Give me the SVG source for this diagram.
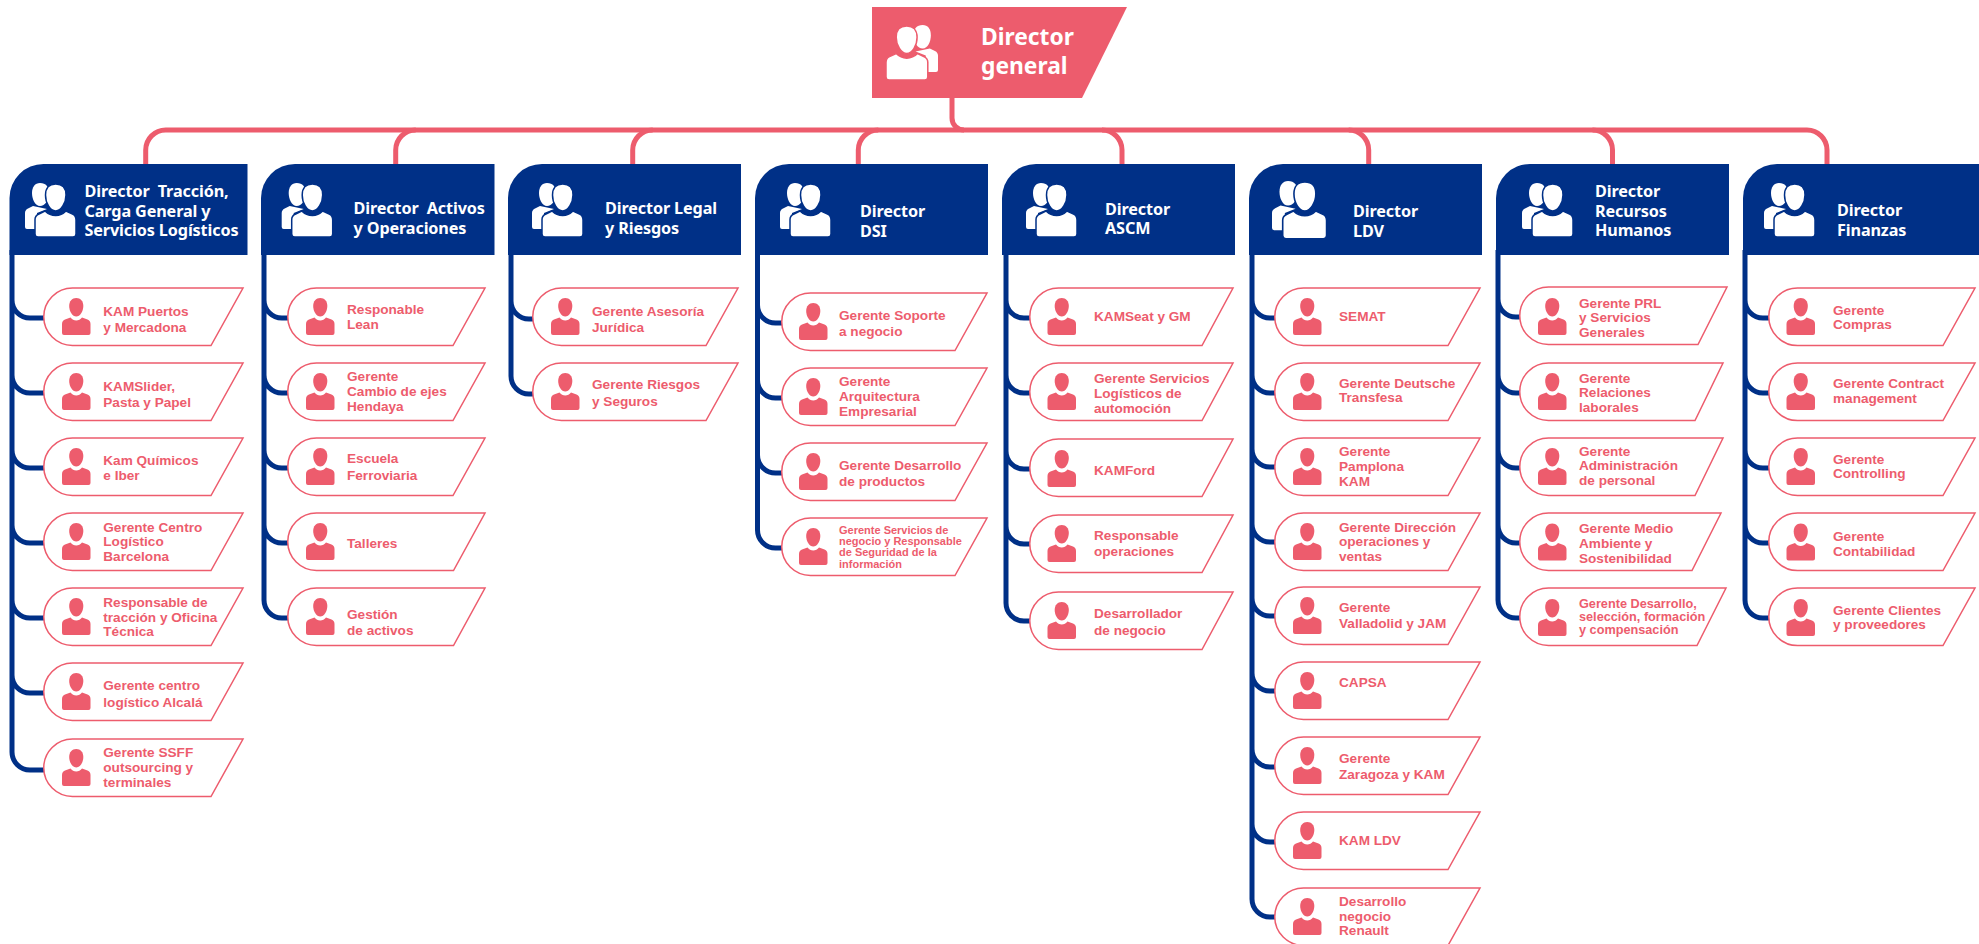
<svg xmlns="http://www.w3.org/2000/svg" width="1979" height="944" viewBox="0 0 1979 944">
<style>
.nd{fill:#fff;stroke:#ed5c6d;stroke-width:1.5}
.ic{fill:#ed5c6d}
.t{font-family:"Liberation Sans",Arial,sans-serif;font-weight:700;font-size:13.6px;fill:#ed5c6d}
.s{font-size:11px}
.m{font-size:12.7px}
.h{font-family:"Noto Sans",sans-serif;font-weight:700;font-size:16.2px;letter-spacing:-.12px;fill:#fff;white-space:pre}
.r{font-size:22.8px;letter-spacing:0}
.hd{fill:#003087}
.cn{fill:none;stroke-width:5}
.cr{stroke:#ed5c6d}
.cb{stroke:#003087}
</style>
<defs>
<g id="p">
<path d="M14.25 0C18.5 0 21.3 3 21.3 8C21.3 13.5 18 18.5 14.25 18.5C10.5 18.5 7.2 13.5 7.2 8C7.2 3 10 0 14.25 0Z"/>
<path d="M8.5 19.5C10 21.5 12 22.5 14.25 22.5C16.5 22.5 18.5 21.5 20 19.5L25.5 21.5C27.5 22.3 28.5 24 28.5 26V35Q28.5 37 26.5 37H2Q0 37 0 35V26C0 24 1 22.3 3 21.5Z"/>
</g>
<g id="g" fill="#fff" stroke-width="1.5">
<path stroke="none" d="M15 0C21 0 24 4 24 10C24 17 20 23 15 23C10 23 7 16 7 10C7 4 10 0 15 0Z"/>
<path stroke="none" d="M8 23L3 25.5C1 26.5 0 28 0 30V44Q0 46 2 46H12V30L22 26Z"/>
<path d="M30.7 1C37 1 41 5 41 12C41 20 36 28 30.7 28C25 28 20.5 20 20.5 12C20.5 5 24.5 1 30.7 1Z"/>
<path d="M20 28C23 31 27 32.5 30.7 32.5C34.5 32.5 38 31 41 28L47.5 31C50 32 51 34 51 37V51Q51 54 48 54H13Q10 54 10 51V36.5C10 34 11.5 32 14 31Z"/>
</g>
</defs>
<g id="connectors">
<path class="cn cr" d="M145.7 164V150A20 20 0 0 1 165.7 130H1807A20 20 0 0 1 1827 150V164"/>
<path class="cn cr" d="M395.7 164V150A20 20 0 0 1 415.7 130"/>
<path class="cn cr" d="M632.7 164V150A20 20 0 0 1 652.7 130"/>
<path class="cn cr" d="M858.3 164V150A20 20 0 0 1 878.3 130"/>
<path class="cn cr" d="M1122 164V150A20 20 0 0 0 1102 130"/>
<path class="cn cr" d="M1368.7 164V150A20 20 0 0 0 1348.7 130"/>
<path class="cn cr" d="M1612.5 164V150A20 20 0 0 0 1592.5 130"/>
<path class="cn cr" d="M952 98V118A12 12 0 0 0 964 130"/>
<path class="cn cb" d="M12 250V300A18 18 0 0 0 30 318H44M12 300V375A18 18 0 0 0 30 393H44M12 375V450A18 18 0 0 0 30 468H44M12 450V525A18 18 0 0 0 30 543H44M12 525V600A18 18 0 0 0 30 618H44M12 600V675A18 18 0 0 0 30 693H44M12 675V752A18 18 0 0 0 30 770H44"/>
<path class="cn cb" d="M264 250V300A18 18 0 0 0 282 318H288M264 300V375A18 18 0 0 0 282 393H288M264 375V450A18 18 0 0 0 282 468H288M264 450V525A18 18 0 0 0 282 543H288M264 525V600A18 18 0 0 0 282 618H288"/>
<path class="cn cb" d="M511 250V301A18 18 0 0 0 529 319H533M511 301V376A18 18 0 0 0 529 394H533"/>
<path class="cn cb" d="M757.5 250V305A18 18 0 0 0 775.5 323H782M757.5 305V380A18 18 0 0 0 775.5 398H782M757.5 380V455A18 18 0 0 0 775.5 473H782M757.5 455V530A18 18 0 0 0 775.5 548H782"/>
<path class="cn cb" d="M1006 250V300A18 18 0 0 0 1024 318H1030M1006 300V375A18 18 0 0 0 1024 393H1030M1006 375V451A18 18 0 0 0 1024 469H1030M1006 451V526A18 18 0 0 0 1024 544H1030M1006 526V603A18 18 0 0 0 1024 621H1030"/>
<path class="cn cb" d="M1252 250V300A18 18 0 0 0 1270 318H1275M1252 300V375A18 18 0 0 0 1270 393H1275M1252 375V449A18 18 0 0 0 1270 467H1275M1252 449V524A18 18 0 0 0 1270 542H1275M1252 524V598A18 18 0 0 0 1270 616H1275M1252 598V673A18 18 0 0 0 1270 691H1275M1252 673V749A18 18 0 0 0 1270 767H1275M1252 749V824A18 18 0 0 0 1270 842H1275M1252 824V899A18 18 0 0 0 1270 917H1275"/>
<path class="cn cb" d="M1498 250V299A18 18 0 0 0 1516 317H1520M1498 299V375A18 18 0 0 0 1516 393H1520M1498 375V450A18 18 0 0 0 1516 468H1520M1498 450V525A18 18 0 0 0 1516 543H1520M1498 525V600A18 18 0 0 0 1516 618H1520"/>
<path class="cn cb" d="M1745 250V300A18 18 0 0 0 1763 318H1769M1745 300V375A18 18 0 0 0 1763 393H1769M1745 375V450A18 18 0 0 0 1763 468H1769M1745 450V525A18 18 0 0 0 1763 543H1769M1745 525V600A18 18 0 0 0 1763 618H1769"/>
</g>
<g id="root"><path fill="#ed5c6d" d="M872 7H1127L1082 98H872Z"/><use href="#g" transform="translate(938,25) scale(-1.02,1.02)" stroke="#ed5c6d"/><text class="h r"><tspan x="981" y="45">Director</tspan><tspan x="981" y="74">general</tspan></text></g>
<g id="d1"><path class="hd" d="M9.5 255V198A34 34 0 0 1 43.5 164H247.5V255Z"/><use href="#g" x="25" y="183" stroke="#003087"/><text class="h"><tspan x="84.5" y="197">Director  Tracción,</tspan><tspan x="84.5" y="217">Carga General y</tspan><tspan x="84.5" y="236">Servicios Logísticos</tspan></text></g>
<g id="d2"><path class="hd" d="M261 255V198A34 34 0 0 1 295 164H494.5V255Z"/><use href="#g" x="281.7" y="183" stroke="#003087"/><text class="h"><tspan x="353.5" y="214">Director  Activos</tspan><tspan x="353.5" y="234">y Operaciones</tspan></text></g>
<g id="d3"><path class="hd" d="M508 255V198A34 34 0 0 1 542 164H741V255Z"/><use href="#g" x="532" y="183" stroke="#003087"/><text class="h"><tspan x="605" y="214">Director Legal</tspan><tspan x="605" y="234">y Riesgos</tspan></text></g>
<g id="d4"><path class="hd" d="M755 255V198A34 34 0 0 1 789 164H988V255Z"/><use href="#g" x="780" y="183" stroke="#003087"/><text class="h"><tspan x="860" y="217">Director</tspan><tspan x="860" y="237">DSI</tspan></text></g>
<g id="d5"><path class="hd" d="M1002 255V198A34 34 0 0 1 1036 164H1235V255Z"/><use href="#g" x="1026" y="183" stroke="#003087"/><text class="h"><tspan x="1105" y="215">Director</tspan><tspan x="1105" y="234">ASCM</tspan></text></g>
<g id="d6"><path class="hd" d="M1249 255V198A34 34 0 0 1 1283 164H1482V255Z"/><use href="#g" transform="translate(1272,181) scale(1.07)" stroke="#003087"/><text class="h"><tspan x="1353" y="217">Director</tspan><tspan x="1353" y="237">LDV</tspan></text></g>
<g id="d7"><path class="hd" d="M1496 255V198A34 34 0 0 1 1530 164H1729V255Z"/><use href="#g" x="1522" y="183" stroke="#003087"/><text class="h"><tspan x="1595" y="197">Director</tspan><tspan x="1595" y="217">Recursos</tspan><tspan x="1595" y="236">Humanos</tspan></text></g>
<g id="d8"><path class="hd" d="M1743 255V198A34 34 0 0 1 1777 164H1979V255Z"/><use href="#g" x="1764" y="183" stroke="#003087"/><text class="h"><tspan x="1837" y="216">Director</tspan><tspan x="1837" y="236">Finanzas</tspan></text></g>
<g id="n1-1"><path class="nd" d="M72.5 288H243L211 345.5H72.5A28.75 28.75 0 0 1 72.5 288Z"/><use href="#p" class="ic" x="62" y="298"/><text class="t"><tspan x="103.3" y="315.5">KAM Puertos</tspan><tspan x="103.3" y="331.5">y Mercadona</tspan></text></g>
<g id="n1-2"><path class="nd" d="M72.5 363H243L211 420.5H72.5A28.75 28.75 0 0 1 72.5 363Z"/><use href="#p" class="ic" x="62" y="373"/><text class="t"><tspan x="103.3" y="390.5">KAMSlider,</tspan><tspan x="103.3" y="406.5">Pasta y Papel</tspan></text></g>
<g id="n1-3"><path class="nd" d="M72.5 438H243L211 495.5H72.5A28.75 28.75 0 0 1 72.5 438Z"/><use href="#p" class="ic" x="62" y="448"/><text class="t"><tspan x="103.3" y="464.5">Kam Químicos</tspan><tspan x="103.3" y="480">e Iber</tspan></text></g>
<g id="n1-4"><path class="nd" d="M72.5 513H243L211 570.5H72.5A28.75 28.75 0 0 1 72.5 513Z"/><use href="#p" class="ic" x="62" y="523"/><text class="t"><tspan x="103.3" y="532">Gerente Centro</tspan><tspan x="103.3" y="546">Logístico</tspan><tspan x="103.3" y="561">Barcelona</tspan></text></g>
<g id="n1-5"><path class="nd" d="M72.5 588H243L211 645.5H72.5A28.75 28.75 0 0 1 72.5 588Z"/><use href="#p" class="ic" x="62" y="598"/><text class="t"><tspan x="103.3" y="607">Responsable de</tspan><tspan x="103.3" y="622">tracción y Oficina</tspan><tspan x="103.3" y="636">Técnica</tspan></text></g>
<g id="n1-6"><path class="nd" d="M72.5 663H243L211 720.5H72.5A28.75 28.75 0 0 1 72.5 663Z"/><use href="#p" class="ic" x="62" y="673"/><text class="t"><tspan x="103.3" y="690">Gerente centro</tspan><tspan x="103.3" y="707">logístico Alcalá</tspan></text></g>
<g id="n1-7"><path class="nd" d="M72.5 739H243L211 796.5H72.5A28.75 28.75 0 0 1 72.5 739Z"/><use href="#p" class="ic" x="62" y="749"/><text class="t"><tspan x="103.3" y="757">Gerente SSFF</tspan><tspan x="103.3" y="772">outsourcing y</tspan><tspan x="103.3" y="787">terminales</tspan></text></g>
<g id="n2-1"><path class="nd" d="M316.5 288H485L453 345.5H316.5A28.75 28.75 0 0 1 316.5 288Z"/><use href="#p" class="ic" x="306" y="298"/><text class="t"><tspan x="347" y="314">Responable</tspan><tspan x="347" y="329">Lean</tspan></text></g>
<g id="n2-2"><path class="nd" d="M316.5 363H485L453 420.5H316.5A28.75 28.75 0 0 1 316.5 363Z"/><use href="#p" class="ic" x="306" y="373"/><text class="t"><tspan x="347" y="381">Gerente</tspan><tspan x="347" y="396">Cambio de ejes</tspan><tspan x="347" y="411">Hendaya</tspan></text></g>
<g id="n2-3"><path class="nd" d="M316.5 438H485L453 495.5H316.5A28.75 28.75 0 0 1 316.5 438Z"/><use href="#p" class="ic" x="306" y="448"/><text class="t"><tspan x="347" y="463">Escuela</tspan><tspan x="347" y="480">Ferroviaria</tspan></text></g>
<g id="n2-4"><path class="nd" d="M316.5 513H485L453.5 570.5H316.5A28.75 28.75 0 0 1 316.5 513Z"/><use href="#p" class="ic" x="306" y="523"/><text class="t"><tspan x="347" y="548">Talleres</tspan></text></g>
<g id="n2-5"><path class="nd" d="M316.5 588H485L453.5 645.5H316.5A28.75 28.75 0 0 1 316.5 588Z"/><use href="#p" class="ic" x="306" y="598"/><text class="t"><tspan x="347" y="619">Gestión</tspan><tspan x="347" y="635">de activos</tspan></text></g>
<g id="n3-1"><path class="nd" d="M561.5 288H738L706 345.5H561.5A28.75 28.75 0 0 1 561.5 288Z"/><use href="#p" class="ic" x="551" y="298"/><text class="t"><tspan x="592" y="316">Gerente Asesoría</tspan><tspan x="592" y="332">Jurídica</tspan></text></g>
<g id="n3-2"><path class="nd" d="M561.5 363H738L706 420.5H561.5A28.75 28.75 0 0 1 561.5 363Z"/><use href="#p" class="ic" x="551" y="373"/><text class="t"><tspan x="592" y="389">Gerente Riesgos</tspan><tspan x="592" y="406">y Seguros</tspan></text></g>
<g id="n4-1"><path class="nd" d="M810.5 293H987L955 350.5H810.5A28.75 28.75 0 0 1 810.5 293Z"/><use href="#p" class="ic" x="799" y="303"/><text class="t"><tspan x="839" y="320">Gerente Soporte</tspan><tspan x="839" y="336">a negocio</tspan></text></g>
<g id="n4-2"><path class="nd" d="M810.5 368H987L955 425.5H810.5A28.75 28.75 0 0 1 810.5 368Z"/><use href="#p" class="ic" x="799" y="378"/><text class="t"><tspan x="839" y="386">Gerente</tspan><tspan x="839" y="401">Arquitectura</tspan><tspan x="839" y="416">Empresarial</tspan></text></g>
<g id="n4-3"><path class="nd" d="M810.5 443H987L955 500.5H810.5A28.75 28.75 0 0 1 810.5 443Z"/><use href="#p" class="ic" x="799" y="453"/><text class="t"><tspan x="839" y="470">Gerente Desarrollo</tspan><tspan x="839" y="486">de productos</tspan></text></g>
<g id="n4-4"><path class="nd" d="M810.5 518H987L955 575.5H810.5A28.75 28.75 0 0 1 810.5 518Z"/><use href="#p" class="ic" x="799" y="528"/><text class="t s"><tspan x="839" y="534">Gerente Servicios de</tspan><tspan x="839" y="545">negocio y Responsable</tspan><tspan x="839" y="556">de Seguridad de la</tspan><tspan x="839" y="568">información</tspan></text></g>
<g id="n5-1"><path class="nd" d="M1058.5 288H1233L1202 345.5H1058.5A28.75 28.75 0 0 1 1058.5 288Z"/><use href="#p" class="ic" x="1047.5" y="298"/><text class="t"><tspan x="1094" y="321">KAMSeat y GM</tspan></text></g>
<g id="n5-2"><path class="nd" d="M1058.5 363H1233L1202 420.5H1058.5A28.75 28.75 0 0 1 1058.5 363Z"/><use href="#p" class="ic" x="1047.5" y="373"/><text class="t"><tspan x="1094" y="383">Gerente Servicios</tspan><tspan x="1094" y="398">Logísticos de</tspan><tspan x="1094" y="413">automoción</tspan></text></g>
<g id="n5-3"><path class="nd" d="M1058.5 439H1233L1202 496.5H1058.5A28.75 28.75 0 0 1 1058.5 439Z"/><use href="#p" class="ic" x="1047.5" y="450"/><text class="t"><tspan x="1094" y="475">KAMFord</tspan></text></g>
<g id="n5-4"><path class="nd" d="M1058.5 515H1233L1202 572.5H1058.5A28.75 28.75 0 0 1 1058.5 515Z"/><use href="#p" class="ic" x="1047.5" y="525"/><text class="t"><tspan x="1094" y="540">Responsable</tspan><tspan x="1094" y="556">operaciones</tspan></text></g>
<g id="n5-5"><path class="nd" d="M1058.5 592H1233L1202 649.5H1058.5A28.75 28.75 0 0 1 1058.5 592Z"/><use href="#p" class="ic" x="1047.5" y="602"/><text class="t"><tspan x="1094" y="618">Desarrollador</tspan><tspan x="1094" y="635">de negocio</tspan></text></g>
<g id="n6-1"><path class="nd" d="M1303.5 288H1480L1448 345.5H1303.5A28.75 28.75 0 0 1 1303.5 288Z"/><use href="#p" class="ic" x="1293" y="298"/><text class="t"><tspan x="1339" y="321">SEMAT</tspan></text></g>
<g id="n6-2"><path class="nd" d="M1303.5 363H1480L1448 420.5H1303.5A28.75 28.75 0 0 1 1303.5 363Z"/><use href="#p" class="ic" x="1293" y="373"/><text class="t"><tspan x="1339" y="388">Gerente Deutsche</tspan><tspan x="1339" y="402">Transfesa</tspan></text></g>
<g id="n6-3"><path class="nd" d="M1303.5 438H1480L1448 495.5H1303.5A28.75 28.75 0 0 1 1303.5 438Z"/><use href="#p" class="ic" x="1293" y="448"/><text class="t"><tspan x="1339" y="456">Gerente</tspan><tspan x="1339" y="471">Pamplona</tspan><tspan x="1339" y="486">KAM</tspan></text></g>
<g id="n6-4"><path class="nd" d="M1303.5 513H1480L1448 570.5H1303.5A28.75 28.75 0 0 1 1303.5 513Z"/><use href="#p" class="ic" x="1293" y="523"/><text class="t"><tspan x="1339" y="532">Gerente Dirección</tspan><tspan x="1339" y="546">operaciones y</tspan><tspan x="1339" y="561">ventas</tspan></text></g>
<g id="n6-5"><path class="nd" d="M1303.5 587H1480L1448 644.5H1303.5A28.75 28.75 0 0 1 1303.5 587Z"/><use href="#p" class="ic" x="1293" y="597"/><text class="t"><tspan x="1339" y="612">Gerente</tspan><tspan x="1339" y="628">Valladolid y JAM</tspan></text></g>
<g id="n6-6"><path class="nd" d="M1303.5 662H1480L1448 719.5H1303.5A28.75 28.75 0 0 1 1303.5 662Z"/><use href="#p" class="ic" x="1293" y="672"/><text class="t"><tspan x="1339" y="687">CAPSA</tspan></text></g>
<g id="n6-7"><path class="nd" d="M1303.5 737H1480L1448 794.5H1303.5A28.75 28.75 0 0 1 1303.5 737Z"/><use href="#p" class="ic" x="1293" y="747"/><text class="t"><tspan x="1339" y="763">Gerente</tspan><tspan x="1339" y="779">Zaragoza y KAM</tspan></text></g>
<g id="n6-8"><path class="nd" d="M1303.5 812H1480L1448 869.5H1303.5A28.75 28.75 0 0 1 1303.5 812Z"/><use href="#p" class="ic" x="1293" y="822"/><text class="t"><tspan x="1339" y="845">KAM LDV</tspan></text></g>
<g id="n6-9"><path class="nd" d="M1303.5 888H1480L1448 945.5H1303.5A28.75 28.75 0 0 1 1303.5 888Z"/><use href="#p" class="ic" x="1293" y="898"/><text class="t"><tspan x="1339" y="906">Desarrollo</tspan><tspan x="1339" y="921">negocio</tspan><tspan x="1339" y="935">Renault</tspan></text></g>
<g id="n7-1"><path class="nd" d="M1548.5 287H1727L1698 344.5H1548.5A28.75 28.75 0 0 1 1548.5 287Z"/><use href="#p" class="ic" x="1538" y="298"/><text class="t"><tspan x="1579" y="308">Gerente PRL</tspan><tspan x="1579" y="322">y Servicios</tspan><tspan x="1579" y="337">Generales</tspan></text></g>
<g id="n7-2"><path class="nd" d="M1548.5 363H1723L1695 420.5H1548.5A28.75 28.75 0 0 1 1548.5 363Z"/><use href="#p" class="ic" x="1538" y="373"/><text class="t"><tspan x="1579" y="383">Gerente</tspan><tspan x="1579" y="397">Relaciones</tspan><tspan x="1579" y="412">laborales</tspan></text></g>
<g id="n7-3"><path class="nd" d="M1548.5 438H1723L1695 495.5H1548.5A28.75 28.75 0 0 1 1548.5 438Z"/><use href="#p" class="ic" x="1538" y="448"/><text class="t"><tspan x="1579" y="456">Gerente</tspan><tspan x="1579" y="470">Administración</tspan><tspan x="1579" y="485">de personal</tspan></text></g>
<g id="n7-4"><path class="nd" d="M1548.5 513H1721L1692 570.5H1548.5A28.75 28.75 0 0 1 1548.5 513Z"/><use href="#p" class="ic" x="1538" y="523.5"/><text class="t"><tspan x="1579" y="533">Gerente Medio</tspan><tspan x="1579" y="548">Ambiente y</tspan><tspan x="1579" y="563">Sostenibilidad</tspan></text></g>
<g id="n7-5"><path class="nd" d="M1548.5 588H1726L1697 645.5H1548.5A28.75 28.75 0 0 1 1548.5 588Z"/><use href="#p" class="ic" x="1538" y="599"/><text class="t m"><tspan x="1579" y="608">Gerente Desarrollo,</tspan><tspan x="1579" y="621">selección, formación</tspan><tspan x="1579" y="634">y compensación</tspan></text></g>
<g id="n8-1"><path class="nd" d="M1797.5 288H1975L1943 345.5H1797.5A28.75 28.75 0 0 1 1797.5 288Z"/><use href="#p" class="ic" x="1786.5" y="298"/><text class="t"><tspan x="1833" y="315">Gerente</tspan><tspan x="1833" y="329">Compras</tspan></text></g>
<g id="n8-2"><path class="nd" d="M1797.5 363H1975L1943 420.5H1797.5A28.75 28.75 0 0 1 1797.5 363Z"/><use href="#p" class="ic" x="1786.5" y="373"/><text class="t"><tspan x="1833" y="388">Gerente Contract</tspan><tspan x="1833" y="403">management</tspan></text></g>
<g id="n8-3"><path class="nd" d="M1797.5 438H1975L1943 495.5H1797.5A28.75 28.75 0 0 1 1797.5 438Z"/><use href="#p" class="ic" x="1786.5" y="448"/><text class="t"><tspan x="1833" y="464">Gerente</tspan><tspan x="1833" y="478">Controlling</tspan></text></g>
<g id="n8-4"><path class="nd" d="M1797.5 513H1975L1943 570.5H1797.5A28.75 28.75 0 0 1 1797.5 513Z"/><use href="#p" class="ic" x="1786.5" y="523.5"/><text class="t"><tspan x="1833" y="541">Gerente</tspan><tspan x="1833" y="556">Contabilidad</tspan></text></g>
<g id="n8-5"><path class="nd" d="M1797.5 588H1975L1943 645.5H1797.5A28.75 28.75 0 0 1 1797.5 588Z"/><use href="#p" class="ic" x="1786.5" y="599"/><text class="t"><tspan x="1833" y="615">Gerente Clientes</tspan><tspan x="1833" y="629">y proveedores</tspan></text></g>
</svg>
